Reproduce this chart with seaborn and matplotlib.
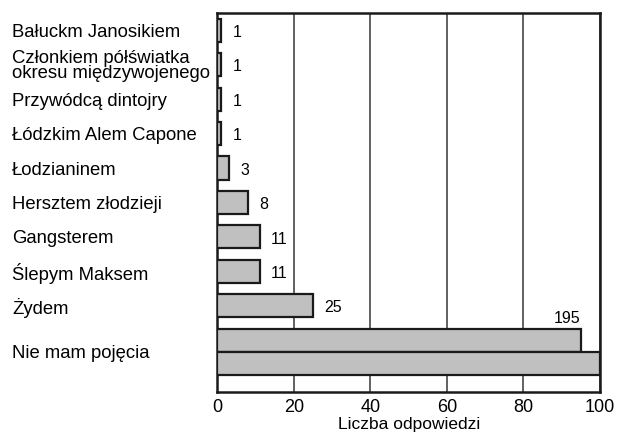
import pandas as pd
import matplotlib
matplotlib.use("Agg")
import matplotlib.pyplot as plt
import seaborn as sns

# === DATA ===
categories = [
    "Bałuckm Janosikiem",
    "Członkiem półświatka\nokresu międzywojenego",
    "Przywódcą dintojry",
    "Łódzkim Alem Capone",
    "Łodzianinem",
    "Hersztem złodzieji",
    "Gangsterem",
    "Ślepym Maksem",
    "Żydem",
    "Nie mam pojęcia",
]
counts = [1, 1, 1, 1, 3, 8, 11, 11, 25, 195]
x_ticks = [0, 20, 40, 60, 80, 100]
x_label = "Liczba odpowiedzi"

# axis is cut at 100, bars above that are drawn "broken"
axis_max = 100
break_at = 95

# === STYLE ===
bar_fill = "#c0c0c0"
bar_edge = "#1a1a1a"
grid_col = "#555555"
bar_h = 0.67

sns.set_theme(style="white")
plt.rcParams["font.family"] = ["Liberation Sans", "DejaVu Sans"]
plt.rcParams["text.color"] = "black"
plt.rcParams["xtick.color"] = "black"
plt.rcParams["ytick.color"] = "black"
plt.rcParams["axes.labelcolor"] = "black"

df = pd.DataFrame({
    "label": categories,
    "count": counts,
    "shown": [min(c, break_at) for c in counts],
})

fig, ax = plt.subplots(figsize=(6.17, 4.32), dpi=100)
fig.subplots_adjust(left=0.3525, right=0.9724, bottom=0.0926, top=0.970)

sns.barplot(data=df, x="shown", y="label", orient="h", ax=ax,
            color=bar_fill, saturation=1, width=bar_h,
            edgecolor=bar_edge, linewidth=1.6, zorder=3)

# second half of the broken bar, sitting right under the first one
broken = df.index[df["count"] > axis_max]
for i in broken:
    ax.barh(i + bar_h, axis_max, height=bar_h, color=bar_fill,
            edgecolor=bar_edge, linewidth=1.6, zorder=3)

# value labels
for i, row in df.iterrows():
    if row["count"] > axis_max:
        ax.annotate(str(row["count"]), (row["shown"], i - bar_h / 2),
                    xytext=(0, 2), textcoords="offset points",
                    ha="right", va="bottom", fontsize=11.5)
    else:
        ax.annotate(str(row["count"]), (row["shown"], i),
                    xytext=(8, -1.5), textcoords="offset points",
                    ha="left", va="center", fontsize=11.5)

# y labels, left aligned; the broken one sits between its two bars
ypos = [float(i) for i in range(len(categories))]
for i in broken:
    ypos[i] = i + bar_h / 2
ax.set_yticks(ypos)
ax.set_yticklabels(categories, fontsize=13.3)
ax.tick_params(axis="y", length=0, pad=148)
for lab in ax.get_yticklabels():
    lab.set_ha("left")
    lab.set_multialignment("left")
    lab.set_linespacing(0.86)

ax.set_xlim(0, axis_max)
ax.set_ylim(len(categories) + 0.5, -0.5)
ax.set_xticks(x_ticks)
ax.set_xticklabels([str(t) for t in x_ticks], fontsize=13)
ax.tick_params(axis="x", length=0, pad=5)
ax.set_xlabel(x_label, fontsize=12.5, labelpad=0.5)
ax.set_ylabel("")

ax.grid(axis="x", color=grid_col, linewidth=1.3)
ax.grid(axis="y", visible=False)
ax.set_axisbelow(True)
for s in ax.spines.values():
    s.set_visible(True)
    s.set_color("#1a1a1a")
    s.set_linewidth(1.8)

fig.savefig("out.png", dpi=100)
